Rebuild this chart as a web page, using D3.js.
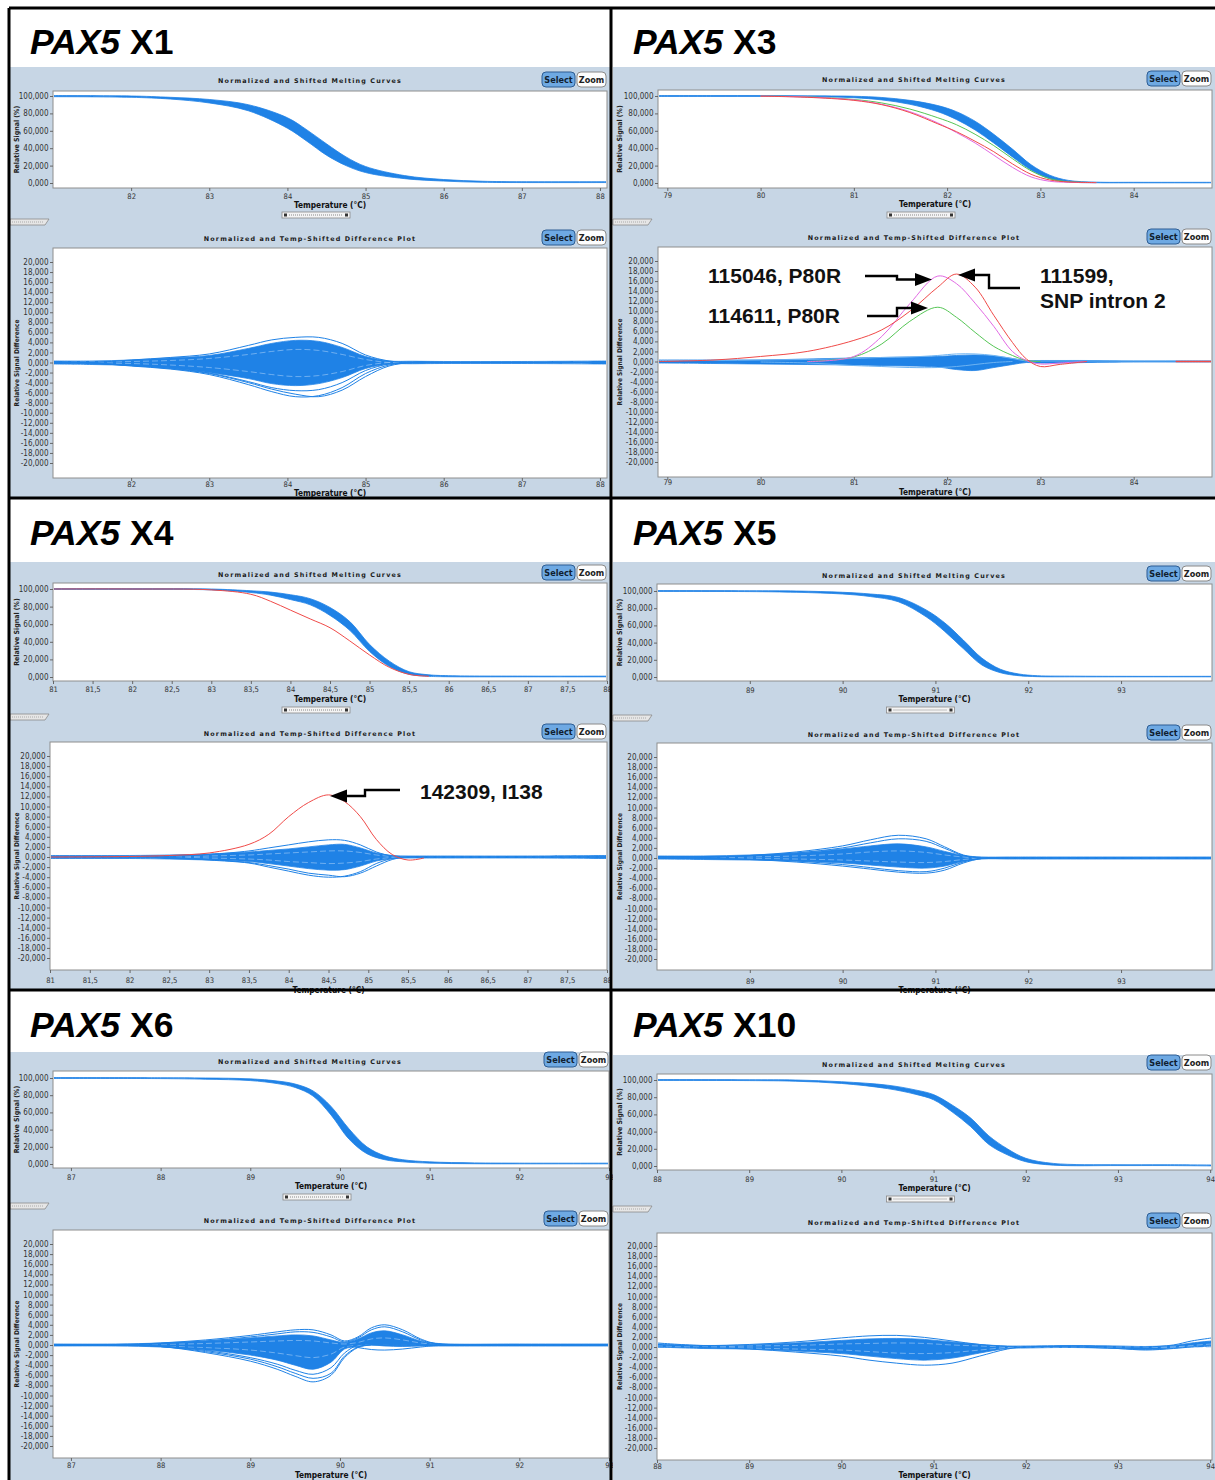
<!DOCTYPE html>
<html>
<head>
<meta charset="utf-8">
<script src="https://cdn.jsdelivr.net/npm/d3@7"></script>
<style>
  body { margin: 0; background: #fff; }
  svg { display: block; }
</style>
</head>
<body>
<svg id="fig" width="1215" height="1480"></svg>
<script>
// ---------------- data ----------------
const panelNames = ["X1", "X3", "X4", "X5", "X6", "X10"];
const meltYTicks = [0, 20, 40, 60, 80, 100];
const diffYTicks = [20, 18, 16, 14, 12, 10, 8, 6, 4, 2, 0, -2, -4, -6, -8, -10, -12, -14, -16, -18, -20];

// PAX5 X1
const ticksX1 = [82, 83, 84, 85, 86, 87, 88];
const x1MeltT = [81, 82, 82.5, 83, 83.5, 84, 84.25, 84.5, 84.75, 85, 85.5, 86, 86.5, 87, 88.09];
const x1MeltHi = [100.5, 100, 98.5, 96, 90, 75, 61, 45, 30, 19, 8.5, 4, 2, 1.5, 1.5];
const x1MeltLo = [99.2, 98.5, 96.5, 92, 83, 63, 48, 32, 20, 12, 5, 2.2, 0.8, 0.5, 0.5];
const x1DiffT = [81, 81.5, 82, 82.5, 83, 83.5, 83.8, 84.1, 84.4, 84.7, 85, 85.3, 85.6, 86, 87, 88.09];
const x1CoreHi = [0.3, 0.3, 0.5, 0.9, 1.4, 2.8, 3.8, 4.4, 4.2, 3.0, 1.2, 0.3, 0.25, 0.2, 0.2, 0.3];
const x1CoreLo = [-0.3, -0.4, -0.6, -1.1, -2.0, -3.2, -4.2, -4.6, -4.2, -3.0, -1.2, -0.3, -0.25, -0.2, -0.2, -0.3];
const x1Upper1 = [0, 0, 0.5, 1.0, 1.7, 3.4, 4.5, 5.0, 5.0, 3.8, 1.5, 0.3, 0, 0, 0, 0];
const x1Lower1 = [0, -0.1, -0.7, -1.3, -2.4, -4.4, -5.8, -6.8, -6.6, -5.0, -2.2, -0.5, 0, 0, 0, 0];
const x1Lower2 = [0, -0.1, -0.6, -1.2, -2.2, -4.0, -5.3, -6.3, -6.8, -5.5, -2.8, -0.7, 0, 0, 0, 0];
const x1Lower3 = [0, -0.1, -0.6, -1.1, -2.1, -3.8, -5.0, -5.6, -5.4, -4.0, -1.6, -0.3, 0, 0, 0, 0];
const x1Inner1 = [0, 0.1, 0.2, 0.4, 0.8, 1.6, 2.2, 2.6, 2.4, 1.6, 0.6, 0, 0, 0, 0, 0];
const x1Inner2 = [0, -0.1, -0.2, -0.5, -1.0, -1.8, -2.4, -2.8, -2.6, -1.8, -0.6, 0, 0, 0, 0, 0];

// PAX5 X3
const ticksX3 = [79, 80, 81, 82, 83, 84];
const x3MeltT = [78.9, 79.5, 80, 80.5, 81, 81.3, 81.6, 81.9, 82.1, 82.3, 82.5, 82.7, 82.9, 83.1, 83.3, 83.6, 84, 84.84];
const x3MeltHi = [100.5, 100.5, 100.5, 100.2, 99.7, 98.3, 95, 89, 82, 71, 56, 39, 21, 9, 3, 1, 0.8, 0.8];
const x3MeltLo = [99.5, 99.5, 99.5, 99.2, 98, 95.5, 90.5, 82, 73, 61, 46, 30, 15, 5, 1.2, 0.3, 0.2, 0.2];
const x3MeltRed = [null, null, 99.8, 98.5, 95, 90, 81, 68, 59, 48, 36, 22, 10, 3.5, 1.2, 0.5, null, null];
const x3MeltMagenta = [null, null, 99.8, 98.8, 95.5, 90.5, 82, 69, 58, 46, 32, 18, 7, 2, 0.8, 0.4, null, null];
const x3MeltGreen = [null, null, 99.8, 99, 96, 92, 85, 75, 67, 56, 43, 28, 14, 5, 1.5, 0.5, null, null];
const x3DiffT = [78.9, 79.5, 80, 80.5, 81, 81.3, 81.6, 81.9, 82.1, 82.3, 82.5, 82.7, 82.85, 83, 83.2, 83.5, 84, 84.45, 84.84];
const x3CoreHi = [0.3, 0.3, 0.3, 0.5, 0.7, 0.8, 0.9, 1.0, 1.2, 1.3, 1.1, 0.6, 0.2, 0.2, 0.2, 0.2, 0.1, 0.1, 0.1];
const x3CoreLo = [-0.3, -0.4, -0.5, -0.6, -0.7, -0.8, -0.9, -1.1, -1.6, -1.8, -1.2, -0.6, -0.2, -0.3, -0.3, -0.2, -0.1, -0.1, -0.1];
const x3LightUpper = [0.2, 0.2, 0.3, 0.4, 0.6, 0.8, 0.9, 1.2, 1.5, 1.5, 1.2, 0.6, 0.1, 0.1, 0.1, 0.1, 0.1, 0.1, 0.1];
const x3LightLower = [null, null, -0.1, -0.3, -0.8, -1.0, -1.2, -1.2, -1.0, -0.6, -0.2, 0, null, null, null, null, null, null, null];
const x3Green = [null, null, null, 0, 0.9, 3.5, 8.0, 10.8, 8.8, 5.8, 3.0, 1.2, 0.2, 0, null, null, null, null, null];
const x3Magenta = [null, null, null, 0, 1.0, 5.0, 11.5, 17.0, 15.5, 11.6, 7.0, 2.0, 0.2, -0.5, -0.3, 0, null, null, null];
const x3Red = [0, 0.3, 1.0, 2.0, 4.2, 6.3, 10.0, 14.8, 17.4, 14.8, 9.2, 3.8, 0.5, -1.0, -0.6, 0, null, null, null];
const x3RedTail = [null, null, null, null, null, null, null, null, null, null, null, null, null, null, null, null, null, 0, 0];

// PAX5 X4
const ticksX4 = [81, 81.5, 82, 82.5, 83, 83.5, 84, 84.5, 85, 85.5, 86, 86.5, 87, 87.5, 88];
const x4MeltT = [81, 82, 83, 83.5, 83.75, 84, 84.25, 84.5, 84.75, 85, 85.25, 85.5, 85.75, 86, 87, 88];
const x4MeltHi = [100.5, 100.5, 100, 98, 96.5, 93.5, 89, 79, 63, 37, 18, 6, 2.5, 1.5, 1, 1];
const x4MeltLo = [99.5, 99.5, 99, 96, 93, 88, 82, 70, 53, 29, 12, 3, 0.8, 0.3, 0.2, 0.2];
const x4MeltRed = [100, 100, 99, 94, 86, 76, 66, 56, 41, 25, 11, 3, 0.8, null, null, null];
const x4DiffT = [81, 82, 82.5, 83, 83.5, 83.75, 84, 84.25, 84.5, 84.7, 84.9, 85.1, 85.3, 85.5, 85.7, 86, 87, 88];
const x4CoreHi = [0.3, 0.3, 0.4, 0.6, 1.0, 1.3, 1.6, 2.0, 2.4, 2.5, 1.8, 0.8, 0.3, 0.2, 0.2, 0.2, 0.2, 0.3];
const x4CoreLo = [-0.3, -0.3, -0.4, -0.6, -0.9, -1.3, -1.8, -2.3, -2.6, -2.5, -1.8, -0.8, -0.3, -0.2, -0.2, -0.2, -0.2, -0.3];
const x4Upper1 = [0, 0, 0.1, 0.5, 1.2, 1.8, 2.4, 3.0, 3.4, 3.3, 2.4, 1.0, 0.2, 0, 0, 0, 0, 0];
const x4Lower1 = [0, 0, -0.1, -0.6, -1.2, -2.0, -2.8, -3.6, -4.0, -3.8, -2.9, -1.3, -0.3, 0, 0, 0, 0, 0];
const x4Lower2 = [0, 0, -0.1, -0.5, -1.1, -1.7, -2.4, -3.2, -3.6, -3.9, -3.2, -1.8, -0.5, 0, 0, 0, 0, 0];
const x4Inner1 = [0, 0, 0, 0.2, 0.4, 0.6, 0.8, 1.0, 1.2, 1.2, 0.9, 0.4, 0.1, 0, 0, 0, 0, 0];
const x4Inner2 = [0, 0, 0, -0.2, -0.4, -0.6, -0.9, -1.1, -1.3, -1.2, -0.9, -0.4, -0.1, 0, 0, 0, 0, 0];
const x4Red = [0, 0.1, 0.3, 0.8, 2.5, 4.5, 8.0, 10.8, 12.3, 11.0, 8.0, 3.5, 0.5, -0.6, -0.2, null, null, null];

// PAX5 X5
const ticksX5 = [89, 90, 91, 92, 93];
const x5MeltT = [88, 89, 89.5, 90, 90.3, 90.6, 90.9, 91.1, 91.3, 91.5, 91.7, 91.9, 92.1, 92.5, 93, 93.98];
const x5MeltHi = [100.5, 100.3, 100, 98.5, 96.5, 92.5, 78, 63, 43, 22, 9, 3.5, 1.5, 1, 0.8, 0.8];
const x5MeltLo = [99.5, 99.3, 98.5, 96.5, 93.5, 87.5, 70, 53, 33, 14, 5, 1.5, 0.4, 0.2, 0.2, 0.2];
const x5DiffT = [88, 88.5, 89, 89.5, 90, 90.3, 90.6, 90.9, 91.1, 91.3, 91.5, 91.8, 92, 93, 93.98];
const x5CoreHi = [0.4, 0.4, 0.6, 1.0, 1.8, 2.4, 2.8, 2.2, 1.3, 0.5, 0.2, 0.2, 0.2, 0.2, 0.2];
const x5CoreLo = [-0.2, -0.3, -0.4, -0.6, -1.0, -1.4, -1.8, -2.0, -1.6, -0.7, -0.2, -0.2, -0.2, -0.2, -0.2];
const x5Upper1 = [0, 0.1, 0.5, 1.2, 2.4, 3.6, 4.5, 3.8, 2.2, 0.6, 0, 0, 0, 0, 0];
const x5Upper2 = [0, 0.1, 0.4, 1.0, 2.0, 3.0, 3.8, 3.3, 1.9, 0.5, 0, 0, 0, 0, 0];
const x5Lower1 = [0, -0.1, -0.3, -0.8, -1.6, -2.2, -2.8, -3.0, -2.4, -1.0, -0.1, 0, 0, 0, 0];
const x5Lower2 = [0, -0.1, -0.2, -0.6, -1.3, -1.9, -2.5, -2.7, -2.0, -0.8, 0, 0, 0, 0, 0];
const x5Inner1 = [0, 0, 0.2, 0.4, 0.8, 1.2, 1.4, 1.1, 0.6, 0.2, 0, 0, 0, 0, 0];
const x5Inner2 = [0, 0, -0.1, -0.2, -0.4, -0.6, -0.8, -0.9, -0.7, -0.3, 0, 0, 0, 0, 0];

// PAX5 X6
const ticksX6 = [87, 88, 89, 90, 91, 92, 93];
const x6MeltT = [86.8, 88, 88.5, 89, 89.3, 89.5, 89.7, 89.9, 90.1, 90.3, 90.5, 90.7, 91, 91.5, 92, 93];
const x6MeltHi = [100.5, 100.3, 100, 99, 96.5, 93, 85, 67, 41, 20, 9.5, 5, 2.5, 1.3, 1, 1];
const x6MeltLo = [99.5, 99.3, 98.6, 97, 93.5, 89, 79, 57, 29, 12, 5, 2.5, 1, 0.3, 0.2, 0.2];
const x6DiffT = [86.8, 87.5, 88, 88.5, 89, 89.3, 89.5, 89.7, 89.9, 90.05, 90.2, 90.35, 90.5, 90.7, 90.9, 91.1, 92, 93];
const x6CoreHi = [0.2, 0.2, 0.4, 0.8, 1.4, 1.8, 2.0, 1.8, 1.0, 0.5, 1.2, 2.4, 2.8, 2.0, 0.8, 0.3, 0.2, 0.2];
const x6CoreLo = [-0.2, -0.2, -0.4, -1.0, -2.0, -3.0, -4.0, -4.8, -3.4, -0.8, -0.3, 0, -0.2, -0.3, -0.2, -0.2, -0.2, -0.2];
const x6Upper1 = [0, 0, 0.4, 1.0, 1.9, 2.6, 3.0, 3.0, 2.0, 0.8, 1.6, 3.4, 4.0, 3.0, 1.2, 0.2, 0, 0];
const x6Upper2 = [0, 0, 0.3, 0.8, 1.6, 2.2, 2.6, 2.5, 1.6, 0.6, 1.4, 3.0, 3.6, 2.6, 1.0, 0.2, 0, 0];
const x6Lower1 = [0, 0, -0.3, -1.5, -3.2, -4.8, -6.2, -7.3, -6.0, -2.5, -0.5, 0, 0, 0, 0, 0, 0, 0];
const x6Lower2 = [0, 0, -0.3, -1.3, -2.8, -4.3, -5.6, -6.6, -5.6, -2.2, -0.4, 0.1, 0, 0, 0, 0, 0, 0];
const x6Lower3 = [0, 0, -0.2, -1.1, -2.5, -3.8, -5.0, -5.8, -4.5, -1.6, 0, 0.3, 0.2, 0, 0, 0, 0, 0];
const x6Lower4 = [0, 0, 0, -0.3, -0.6, -0.8, -0.8, -0.6, -0.3, -0.1, -0.5, -0.9, -1.0, -0.8, -0.4, -0.1, 0, 0];
const x6Inner1 = [0, 0, 0.1, 0.3, 0.6, 0.8, 0.9, 0.8, 0.4, 0.2, 0.5, 1.2, 1.4, 1.0, 0.4, 0.1, 0, 0];
const x6Inner2 = [0, 0, -0.2, -0.5, -1.0, -1.6, -2.1, -2.5, -1.8, -0.4, -0.1, 0.1, 0.1, 0, 0, 0, 0, 0];

// PAX5 X10
const ticksX10 = [88, 89, 90, 91, 92, 93, 94];
const x10MeltT = [88, 89, 89.5, 90, 90.5, 90.8, 91, 91.2, 91.4, 91.6, 91.8, 92, 92.3, 93, 93.5, 94.02];
const x10MeltHi = [100.5, 100.3, 100, 98, 94, 88.5, 83, 71, 56, 35, 20, 9, 3, 1.5, 1.5, 1.2];
const x10MeltLo = [99.5, 99.3, 98.6, 96, 90, 83.5, 77, 63, 46, 25, 13, 5, 1, 0.5, 0.5, 0.1];
const x10DiffT = [88, 88.5, 89, 89.5, 90, 90.3, 90.6, 90.9, 91.2, 91.5, 91.8, 92, 92.5, 93, 93.3, 93.6, 93.8, 94.02];
const x10CoreHi = [0.6, 0.3, 0.4, 0.8, 1.3, 1.6, 1.7, 1.5, 1.0, 0.5, 0.2, 0.2, 0.3, 0.2, 0.1, 0.3, 0.8, 1.2];
const x10CoreLo = [0.0, -0.3, -0.4, -0.8, -1.3, -1.8, -2.3, -2.6, -2.2, -1.2, -0.3, -0.2, -0.1, -0.3, -0.5, -0.2, 0.1, 0.3];
const x10Upper1 = [0.8, 0.3, 0.5, 1.0, 1.8, 2.2, 2.3, 1.9, 1.2, 0.5, 0.1, 0, 0.2, 0, 0, 0.4, 1.2, 1.8];
const x10Lower1 = [0, -0.1, -0.4, -1.0, -1.8, -2.6, -3.2, -3.6, -3.2, -1.8, -0.4, 0, 0, -0.3, -0.6, -0.3, 0, 0.2];
const x10Inner1 = [0.2, 0, 0.2, 0.3, 0.6, 0.7, 0.8, 0.7, 0.4, 0.2, 0, 0, 0, 0, 0, 0, 0.3, 0.6];
const x10Inner2 = [0, -0.1, -0.2, -0.4, -0.6, -0.9, -1.2, -1.3, -1.1, -0.6, -0.1, 0, 0, 0, 0, 0, 0, 0];

// Annotations: sample IDs pointing to the shifted curves
const annotX3 = ["115046, P80R", "114611, P80R", "111599,", "SNP intron 2"];
const annotX4 = ["142309, I138"];

// ---------------- styles ----------------
const BLUE = "#1f82e6", LIGHT = "#6db3f2", INNER = "#8fc2f5";
const RED = "#f04a48", MAGENTA = "#e26ae4", GREEN = "#55c655";
const BG = "#c7d6e5";
const FONT_UI = "'Liberation Sans Narrow','DejaVu Sans Condensed','Liberation Sans',Arial,sans-serif";
const FONT_HEAD = "'DejaVu Sans',Verdana,sans-serif";
const FONT_BIG = "'Liberation Sans',Arial,Helvetica,sans-serif";

const fmtVal = d => d.toFixed(3).replace(".", ",");
const fmtTemp = d => String(d).replace(".", ",");

const band = (T, hi, lo) => ({ type: "band", T, hi, lo });
const line = (T, v, color, width, dash) => ({ type: "line", T, v, color, width: width || 1, dash: dash || null });
const inner = (T, v) => line(T, v, INNER, 0.7, "6,3");

// ---------------- layout ----------------
const panels = [
  { name: panelNames[0], px0: 10, px1: 610, titleY: 54, bgTop: 67, bgBot: 497, tab: 219,
    melt: { frame: [53, 607, 91, 188], yA: 183, yB: 96, dom: [81, 88.09], ticks: ticksX1, head: 80, btn: 72, lab: 196, axl: 205, scroll: 212,
      series: [band(x1MeltT, x1MeltHi, x1MeltLo)] },
    diff: { frame: [53, 607, 248, 478], yA: 463, yB: 262, dom: [81, 88.09], ticks: ticksX1, head: 238, btn: 230, lab: 484, axl: 493,
      series: [band(x1DiffT, x1CoreHi, x1CoreLo), inner(x1DiffT, x1Inner1), inner(x1DiffT, x1Inner2),
               line(x1DiffT, x1Upper1, BLUE), line(x1DiffT, x1Lower1, BLUE),
               line(x1DiffT, x1Lower2, BLUE), line(x1DiffT, x1Lower3, BLUE)] } },
  { name: panelNames[1], px0: 613, px1: 1215, titleY: 54, bgTop: 67, bgBot: 497, tab: 219,
    melt: { frame: [658, 1212, 90, 188], yA: 183, yB: 96, dom: [78.9, 84.84], ticks: ticksX3, head: 79, btn: 71, lab: 195, axl: 204, scroll: 212,
      series: [band(x3MeltT, x3MeltHi, x3MeltLo), line(x3MeltT, x3MeltGreen, GREEN), line(x3MeltT, x3MeltMagenta, MAGENTA),
               line(x3MeltT, x3MeltRed, RED)] },
    diff: { frame: [658, 1212, 247, 477], yA: 462, yB: 261, dom: [78.9, 84.84], ticks: ticksX3, head: 237, btn: 229, lab: 482, axl: 492,
      series: [band(x3DiffT, x3CoreHi, x3CoreLo), line(x3DiffT, x3LightUpper, LIGHT), line(x3DiffT, x3LightLower, LIGHT),
               line(x3DiffT, x3Green, GREEN), line(x3DiffT, x3Magenta, MAGENTA), line(x3DiffT, x3Red, RED),
               line(x3DiffT, x3RedTail, RED, 1.6)] } },
  { name: panelNames[2], px0: 10, px1: 610, titleY: 545, bgTop: 562, bgBot: 989, tab: 714,
    melt: { frame: [53, 607, 583, 681], yA: 677, yB: 589, dom: [81, 88], ticks: ticksX4, head: 574, btn: 565, lab: 689, axl: 699, scroll: 707,
      series: [band(x4MeltT, x4MeltHi, x4MeltLo), line(x4MeltT, x4MeltRed, RED)] },
    diff: { frame: [50, 607, 742, 970], yA: 958, yB: 756, dom: [81, 88], ticks: ticksX4, head: 733, btn: 724, lab: 980, axl: 990,
      series: [band(x4DiffT, x4CoreHi, x4CoreLo), inner(x4DiffT, x4Inner1), inner(x4DiffT, x4Inner2),
               line(x4DiffT, x4Upper1, BLUE), line(x4DiffT, x4Lower1, BLUE),
               line(x4DiffT, x4Lower2, BLUE), line(x4DiffT, x4Red, RED)] } },
  { name: panelNames[3], px0: 613, px1: 1215, titleY: 545, bgTop: 562, bgBot: 989, tab: 715,
    melt: { frame: [657, 1212, 584, 681], yA: 677, yB: 591, dom: [88, 93.98], ticks: ticksX5, head: 575, btn: 566, lab: 690, axl: 699, scroll: 707,
      series: [band(x5MeltT, x5MeltHi, x5MeltLo)] },
    diff: { frame: [657, 1212, 743, 970], yA: 959, yB: 757, dom: [88, 93.98], ticks: ticksX5, head: 734, btn: 725, lab: 981, axl: 990,
      series: [band(x5DiffT, x5CoreHi, x5CoreLo), inner(x5DiffT, x5Inner1), inner(x5DiffT, x5Inner2),
               line(x5DiffT, x5Upper1, BLUE), line(x5DiffT, x5Upper2, BLUE),
               line(x5DiffT, x5Lower1, BLUE), line(x5DiffT, x5Lower2, BLUE)] } },
  { name: panelNames[4], px0: 10, px1: 610, titleY: 1037, bgTop: 1052, bgBot: 1480, tab: 1203,
    melt: { frame: [53, 609, 1071, 1168], yA: 1164, yB: 1078, dom: [86.8, 93.0], ticks: ticksX6, head: 1061, btn: 1052, lab: 1177, axl: 1186, scroll: 1194,
      series: [band(x6MeltT, x6MeltHi, x6MeltLo)] },
    diff: { frame: [53, 609, 1230, 1458], yA: 1446, yB: 1244, dom: [86.8, 93.0], ticks: ticksX6, head: 1220, btn: 1211, lab: 1465, axl: 1475,
      series: [band(x6DiffT, x6CoreHi, x6CoreLo), inner(x6DiffT, x6Inner1), inner(x6DiffT, x6Inner2),
               line(x6DiffT, x6Upper1, BLUE), line(x6DiffT, x6Upper2, BLUE),
               line(x6DiffT, x6Lower1, BLUE), line(x6DiffT, x6Lower2, BLUE), line(x6DiffT, x6Lower3, BLUE),
               line(x6DiffT, x6Lower4, BLUE)] } },
  { name: panelNames[5], px0: 613, px1: 1215, titleY: 1037, bgTop: 1055, bgBot: 1480, tab: 1206,
    melt: { frame: [657, 1212, 1074, 1170], yA: 1166, yB: 1080, dom: [88, 94.02], ticks: ticksX10, head: 1064, btn: 1055, lab: 1179, axl: 1188, scroll: 1196,
      series: [band(x10MeltT, x10MeltHi, x10MeltLo)] },
    diff: { frame: [657, 1212, 1233, 1460], yA: 1448, yB: 1246, dom: [88, 94.02], ticks: ticksX10, head: 1222, btn: 1213, lab: 1466, axl: 1475,
      series: [band(x10DiffT, x10CoreHi, x10CoreLo), inner(x10DiffT, x10Inner1), inner(x10DiffT, x10Inner2),
               line(x10DiffT, x10Upper1, BLUE), line(x10DiffT, x10Lower1, BLUE)] } }
];

// ---------------- drawing ----------------
const svg = d3.select("#fig");
svg.append("rect").attr("width", 1215).attr("height", 1480).attr("fill", "#fff");
let clipId = 0;
const smooth = d3.curveCatmullRom.alpha(0.5);

function drawButtons(g, xr, y) {
  const sel = g.append("g").attr("transform", `translate(${xr - 65},${y})`);
  sel.append("rect").attr("width", 33).attr("height", 15).attr("rx", 4)
    .attr("fill", "#6ea9e3").attr("stroke", "#2d5d93").attr("stroke-width", 1);
  sel.append("text").attr("x", 16.5).attr("y", 11).attr("text-anchor", "middle")
    .attr("font-family", FONT_UI).attr("font-weight", "bold").attr("font-size", 9).attr("fill", "#102030").text("Select");
  const zm = g.append("g").attr("transform", `translate(${xr - 30},${y})`);
  zm.append("rect").attr("width", 29).attr("height", 15).attr("rx", 4)
    .attr("fill", "#fdfdfd").attr("stroke", "#8a8a8a").attr("stroke-width", 1);
  zm.append("text").attr("x", 14.5).attr("y", 11).attr("text-anchor", "middle")
    .attr("font-family", FONT_UI).attr("font-weight", "bold").attr("font-size", 9).attr("fill", "#202020").text("Zoom");
}

function drawChart(g, p, c, kind) {
  const [fx0, fx1, fy0, fy1] = c.frame;
  const cx = (p.px0 + p.px1) / 2;
  const x = d3.scaleLinear().domain(c.dom).range([fx0, fx1]);
  const y = kind === "melt"
    ? d3.scaleLinear().domain([0, 100]).range([c.yA, c.yB])
    : d3.scaleLinear().domain([-20, 20]).range([c.yA, c.yB]);

  // heading
  g.append("text").attr("x", cx).attr("y", c.head + 2.5).attr("text-anchor", "middle")
    .attr("font-family", FONT_HEAD).attr("font-weight", "bold").attr("font-size", 6.4)
    .attr("letter-spacing", 1.15).attr("fill", "#1a1a1a")
    .text(kind === "melt" ? "Normalized and Shifted Melting Curves" : "Normalized and Temp-Shifted Difference Plot");
  drawButtons(g, fx1, c.btn);

  // frame
  g.append("rect").attr("x", fx0).attr("y", fy0).attr("width", fx1 - fx0).attr("height", fy1 - fy0)
    .attr("fill", "#fff").attr("stroke", "#8e8e8e").attr("stroke-width", 1);

  const id = "clip" + (clipId++);
  svg.append("clipPath").attr("id", id).append("rect")
    .attr("x", fx0 + 1).attr("y", fy0 + 1).attr("width", fx1 - fx0 - 2).attr("height", fy1 - fy0 - 2);
  const data = g.append("g").attr("clip-path", `url(#${id})`);

  c.series.forEach(s => {
    if (s.type === "band") {
      const rows = s.T.map((t, i) => ({ t, hi: s.hi[i], lo: s.lo[i] }));
      data.append("path").datum(rows)
        .attr("d", d3.area().x(d => x(d.t)).y0(d => y(d.lo)).y1(d => y(d.hi)).curve(smooth))
        .attr("fill", BLUE).attr("stroke", BLUE).attr("stroke-width", 0.8);
    } else {
      const rows = s.T.map((t, i) => ({ t, v: s.v[i] }));
      data.append("path").datum(rows)
        .attr("d", d3.line().defined(d => d.v !== null).x(d => x(d.t)).y(d => y(d.v)).curve(smooth))
        .attr("fill", "none").attr("stroke", s.color).attr("stroke-width", s.width)
        .attr("stroke-dasharray", s.dash);
    }
  });

  // axes
  const ya = g.append("g").attr("transform", `translate(${fx0},0)`)
    .call(d3.axisLeft(y).tickValues(kind === "melt" ? meltYTicks : diffYTicks).tickFormat(fmtVal).tickSize(3).tickPadding(1.5));
  const xa = g.append("g").attr("transform", `translate(0,${fy1})`)
    .call(d3.axisBottom(x).tickValues(c.ticks).tickFormat(fmtTemp).tickSize(3));
  [ya, xa].forEach(a => {
    a.select(".domain").remove();
    a.selectAll(".tick line").attr("stroke", "#666");
    a.selectAll("text").attr("font-family", FONT_UI).attr("font-size", 8).attr("fill", "#333");
  });
  xa.selectAll("text").attr("font-size", 7.6).attr("y", c.lab - fy1 + 2.5).attr("dy", null);

  // axis titles
  g.append("text").attr("x", (fx0 + fx1) / 2).attr("y", c.axl + 3).attr("text-anchor", "middle")
    .attr("font-family", FONT_UI).attr("font-weight", "bold").attr("font-size", 8.3).attr("fill", "#111")
    .text("Temperature (°C)");
  g.append("text")
    .attr("transform", `translate(${p.px0 + 8.5},${(fy0 + fy1) / 2}) rotate(-90)`)
    .attr("text-anchor", "middle").attr("font-family", FONT_UI).attr("font-weight", "bold")
    .attr("font-size", kind === "melt" ? 7 : 6.6).attr("fill", "#222")
    .text(kind === "melt" ? "Relative Signal (%)" : "Relative Signal Difference");

  if (kind === "melt") {
    // horizontal zoom slider under the melting-curve axis
    const sx = (fx0 + fx1) / 2 - 48;
    const sg = g.append("g").attr("transform", `translate(${sx},${c.scroll})`);
    sg.append("rect").attr("width", 68).attr("height", 6).attr("fill", "#f4f4f4").attr("stroke", "#8a8a8a").attr("stroke-width", 0.8);
    sg.append("line").attr("x1", 7).attr("x2", 61).attr("y1", 3).attr("y2", 3)
      .attr("stroke", "#888").attr("stroke-width", 1).attr("stroke-dasharray", "1,1");
    sg.append("rect").attr("x", 2).attr("y", 1.5).attr("width", 3).attr("height", 3).attr("fill", "#333");
    sg.append("rect").attr("x", 63).attr("y", 1.5).attr("width", 3).attr("height", 3).attr("fill", "#333");
  }
}

function drawPanel(p) {
  const g = svg.append("g");
  g.append("rect").attr("x", p.px0).attr("y", p.bgTop).attr("width", p.px1 - p.px0).attr("height", p.bgBot - p.bgTop)
    .attr("fill", BG);
  const t = g.append("text").attr("x", p.px0 + 20).attr("y", p.titleY)
    .attr("font-family", FONT_BIG).attr("font-weight", "bold").attr("font-size", 35.5).attr("fill", "#000");
  t.append("tspan").attr("font-style", "italic").text("PAX5");
  t.append("tspan").text(" " + p.name);

  drawChart(g, p, p.melt, "melt");
  drawChart(g, p, p.diff, "diff");

  // splitter tab between the two plots
  const ty = p.tab;
  g.append("path")
    .attr("d", `M${p.px0},${ty} L${p.px0 + 39},${ty} L${p.px0 + 35},${ty + 6} L${p.px0},${ty + 6} Z`)
    .attr("fill", "#e6e6e6").attr("stroke", "#8a8a8a").attr("stroke-width", 0.8);
  g.append("line").attr("x1", p.px0 + 2).attr("x2", p.px0 + 33).attr("y1", ty + 3).attr("y2", ty + 3)
    .attr("stroke", "#aaa").attr("stroke-width", 1).attr("stroke-dasharray", "1,1");
}

panels.forEach(drawPanel);

// ---------------- annotations ----------------
const ann = svg.append("g").attr("font-family", FONT_BIG).attr("font-weight", "bold").attr("font-size", 21).attr("fill", "#111");
ann.append("text").attr("x", 708).attr("y", 283).text(annotX3[0]);
ann.append("text").attr("x", 708).attr("y", 323).text(annotX3[1]);
ann.append("text").attr("x", 1040).attr("y", 283).text(annotX3[2]);
ann.append("text").attr("x", 1040).attr("y", 308).text(annotX3[3]);
ann.append("text").attr("x", 420).attr("y", 799).text(annotX4[0]);

function arrow(points, dir) {
  // points: polyline ending at the arrow tip; dir: +1 pointing right, -1 pointing left
  const tip = points[points.length - 1];
  const base = [tip[0] - dir * 17, tip[1]];
  const pts = points.slice(0, -1).concat([base]);
  svg.append("path").attr("d", d3.line()(pts)).attr("fill", "none").attr("stroke", "#000").attr("stroke-width", 2.4);
  svg.append("path")
    .attr("d", `M${tip[0]},${tip[1]} L${base[0]},${tip[1] - 6.5} L${base[0]},${tip[1] + 6.5} Z`)
    .attr("fill", "#000");
}
arrow([[865, 276], [897, 276], [897, 279.5], [932, 279.5]], 1);
arrow([[867, 316], [897, 316], [897, 308], [928, 308]], 1);
arrow([[1020, 288], [989, 288], [989, 275], [958, 275]], -1);
arrow([[400, 790], [365, 790], [365, 796], [330, 796]], -1);

// ---------------- frame lines ----------------
const frameLines = [
  [[9, 8], [1215, 8]],
  [[9, 8], [9, 1480]],
  [[611, 8], [611, 1480]],
  [[9, 498], [1215, 498]],
  [[9, 990], [1215, 990]]
];
frameLines.forEach(l => svg.append("path").attr("d", d3.line()(l)).attr("stroke", "#000").attr("stroke-width", 3).attr("fill", "none"));
</script>
</body>
</html>
